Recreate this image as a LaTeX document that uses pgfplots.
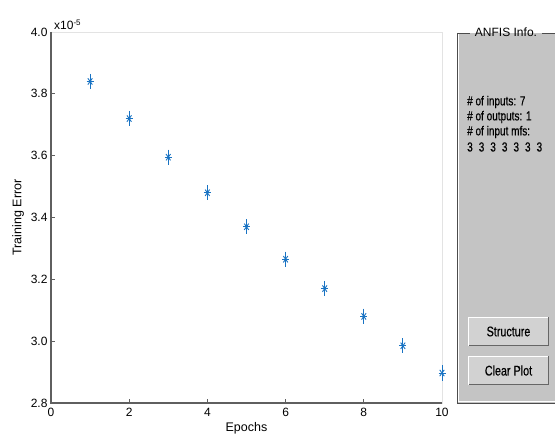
\documentclass[border=0pt]{standalone}
\usepackage{fontspec}
\setmainfont{Liberation Sans}
\newfontfamily\narrowfont[FakeStretch=0.77, FakeBold=0.5]{Liberation Sans}
\usepackage{pgfplots}
\pgfplotsset{compat=1.18}
\definecolor{mblue}{RGB}{25,115,195}
\definecolor{axgray}{RGB}{95,95,95}
\definecolor{panelgray}{RGB}{196,196,196}
\definecolor{btngray}{RGB}{210,210,210}
\begin{document}
\begin{tikzpicture}[x=1pt,y=1pt]
\path[use as bounding box, fill=white] (0,0) rectangle (555,435);
\begin{axis}[
  scale only axis, width=391pt, height=371pt,
  at={(51pt,32pt)}, anchor=south west,
  xmin=0, xmax=10, ymin=2.8e-5, ymax=4.0e-5,
  xtick={0,2,4,6,8,10},
  ytick={2.8e-5,3.0e-5,3.2e-5,3.4e-5,3.6e-5,3.8e-5,4.0e-5},
  scaled y ticks=base 10:5,
  ytick scale label code/.code={x10\textsuperscript{-5}},
  every y tick scale label/.style={at={(rel axis cs:0,1)}, anchor=south west, inner sep=1pt, xshift=2pt, yshift=1pt, font=\fontsize{12}{14}\selectfont},
  yticklabel style={/pgf/number format/fixed, /pgf/number format/fixed zerofill, /pgf/number format/precision=1, /pgf/number format/assume math mode=true},
  xticklabel style={/pgf/number format/assume math mode=true, yshift=-2pt},
  tick pos=left, tick align=inside, major tick length=3.5pt,
  tick style={axgray, line width=0.8pt},
  axis line style={draw=gray!22, line width=0.6pt},
  tick label style={font=\fontsize{12}{14}\selectfont},
  label style={font=\fontsize{12.5}{15}\selectfont},
  xlabel={Epochs}, ylabel={Training Error},
  xlabel style={yshift=1.5pt},
  clip=false,
]
\addplot[only marks, mark=+, mark size=3.5pt, mblue, line width=1pt, mark options={yscale=2.2}]
 coordinates {(1,3.84e-5) (2,3.72e-5) (3,3.595e-5) (4,3.48e-5) (5,3.37e-5) (6,3.265e-5) (7,3.17e-5) (8,3.08e-5) (9,2.985e-5) (10,2.897e-5)};
\addplot[only marks, mark=x, mark size=3.2pt, mblue, line width=0.9pt, mark options={yscale=1.4}]
 coordinates {(1,3.84e-5) (2,3.72e-5) (3,3.595e-5) (4,3.48e-5) (5,3.37e-5) (6,3.265e-5) (7,3.17e-5) (8,3.08e-5) (9,2.985e-5) (10,2.897e-5)};
\draw[axgray, line width=1.3pt] (rel axis cs:0,1) -- (rel axis cs:0,0) -- (rel axis cs:1,0);
\end{axis}
\begin{scope}
\clip (0,0) rectangle (555,435);
\fill[panelgray] (457,32) rectangle (560,402);
\draw[white, line width=0.7pt] (458.5,401) -- (458.5,33.5) -- (560,33.5);
\draw[black!70, line width=0.9pt] (457,402) -- (457,32) -- (560,32);
\draw[black!70, line width=0.9pt] (457,402) -- (470,402);
\draw[black!70, line width=0.9pt] (542,402) -- (560,402);
\node[font=\fontsize{12}{14}\selectfont, inner sep=0pt] at (506,403) {ANFIS Info.};
\begin{scope}[font=\narrowfont\fontsize{13}{15}\selectfont]
\node[anchor=west, inner sep=0pt] at (467,333) {\# of inputs: 7};
\node[anchor=west, inner sep=0pt] at (467,318) {\# of outputs: 1};
\node[anchor=west, inner sep=0pt] at (467,303) {\# of input mfs:};
\node[anchor=west, inner sep=0pt] at (467,288) {3\hspace{6pt}3\hspace{6pt}3\hspace{6pt}3\hspace{6pt}3\hspace{6pt}3\hspace{6pt}3};
\end{scope}
% buttons
\foreach \yb/\txt in {89/Structure, 50/Clear Plot}{
  \fill[btngray] (468,\yb) rectangle (549,\yb+29);
  \draw[white, line width=1pt] (468.5,\yb) -- (468.5,\yb+28.5) -- (549,\yb+28.5);
  \draw[black!60, line width=1pt] (468.5,\yb+0.5) -- (548.5,\yb+0.5) -- (548.5,\yb+28.5);
  \node[font=\narrowfont\fontsize{14}{16}\selectfont, inner sep=0pt] at (508.5,\yb+14.5) {\txt};
}
\end{scope}
\end{tikzpicture}
\end{document}
